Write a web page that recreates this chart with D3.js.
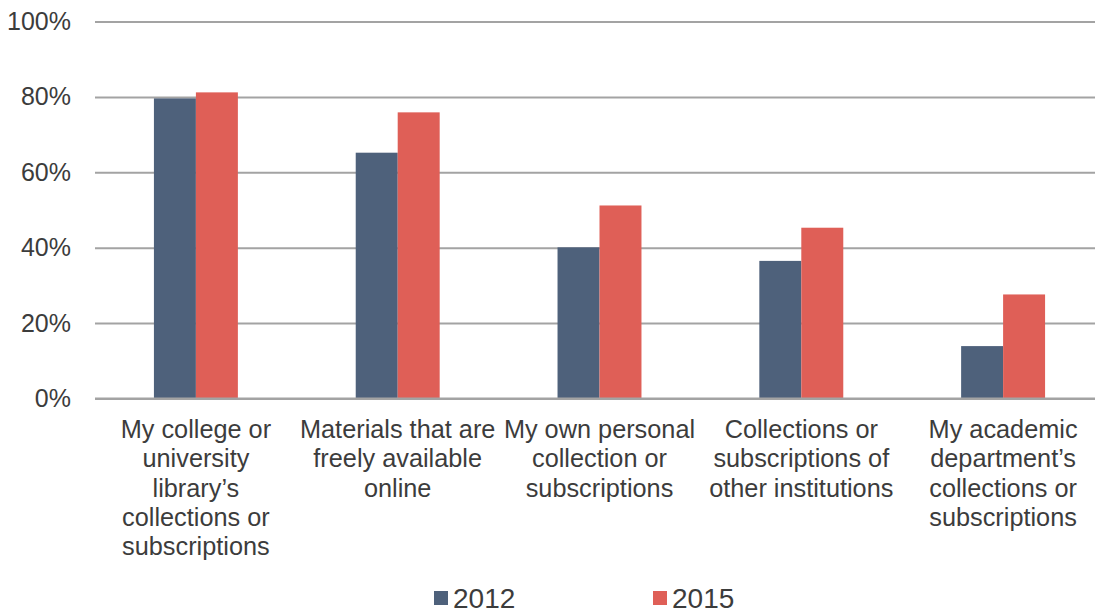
<!DOCTYPE html>
<html>
<head>
<meta charset="utf-8">
<script src="https://cdn.jsdelivr.net/npm/d3@7"></script>
<style>
  html, body { margin: 0; padding: 0; background: #fff; }
  svg { display: block; }
</style>
</head>
<body>
<div id="chart"></div>
<script>
// Chart data
const categories = [
  "My college or university library's collections or subscriptions",
  "Materials that are freely available online",
  "My own personal collection or subscriptions",
  "Collections or subscriptions of other institutions",
  "My academic department's collections or subscriptions"
];
const categoryLines = [
  ["My college or", "university", "library\u2019s", "collections or", "subscriptions"],
  ["Materials that are", "freely available", "online"],
  ["My own personal", "collection or", "subscriptions"],
  ["Collections or", "subscriptions of", "other institutions"],
  ["My academic", "department\u2019s", "collections or", "subscriptions"]
];
const seriesNames = ["2012", "2015"];
const values2012 = [0.796, 0.652, 0.401, 0.365, 0.139];
const values2015 = [0.812, 0.759, 0.512, 0.453, 0.276];
const yTicks = [0, 0.2, 0.4, 0.6, 0.8, 1.0];

const colors = { "2012": "#4e617b", "2015": "#df5f57" };

const width = 1095, height = 613;
const margin = { top: 21.5, right: -9, bottom: 214.5, left: 95 };

const svg = d3.select("#chart")
  .append("svg")
  .attr("width", width)
  .attr("height", height)
  .style("font-family", "'Liberation Sans', Arial, sans-serif");

const x0 = d3.scaleBand()
  .domain(d3.range(categories.length))
  .range([margin.left, width - margin.right])
  .paddingInner(0.584)
  .paddingOuter(0.292);

const x1 = d3.scaleBand()
  .domain(seriesNames)
  .range([0, x0.bandwidth()]);

const y = d3.scaleLinear()
  .domain([0, 1])
  .range([height - margin.bottom, margin.top]);

// gridlines + tick labels
const yAxis = d3.axisLeft(y)
  .tickValues(yTicks)
  .tickFormat(d3.format(".0%"))
  .tickSize(-(width - margin.left + 20))
  .tickPadding(24);

const gy = svg.append("g")
  .attr("transform", `translate(${margin.left},0)`)
  .call(yAxis);
gy.select(".domain").remove();
gy.selectAll(".tick line")
  .attr("stroke", "#a3a3a3")
  .attr("stroke-width", 2);
gy.selectAll(".tick text")
  .attr("fill", "#3c3c3c")
  .style("font-size", "25px")
  .style("font-family", "'Liberation Sans', Arial, sans-serif");

// bars
const rows = categories.map((c, i) => ({ i, vals: [values2012[i], values2015[i]] }));

const groups = svg.append("g").selectAll("g")
  .data(rows)
  .join("g")
  .attr("transform", d => `translate(${x0(d.i)},0)`);

groups.selectAll("rect")
  .data(d => d.vals.map((v, k) => ({ key: seriesNames[k], v })))
  .join("rect")
  .attr("x", d => x1(d.key))
  .attr("y", d => y(d.v))
  .attr("width", x1.bandwidth())
  .attr("height", d => y(0) - y(d.v))
  .attr("fill", d => colors[d.key]);

// redraw baseline over bars
svg.append("line")
  .attr("x1", margin.left)
  .attr("x2", width)
  .attr("y1", y(0))
  .attr("y2", y(0))
  .attr("stroke", "#a3a3a3")
  .attr("stroke-width", 2);

// category labels
const labels = svg.append("g").selectAll("text")
  .data(categoryLines)
  .join("text")
  .attr("text-anchor", "middle")
  .attr("fill", "#3c3c3c")
  .style("font-size", "25.3px")
  .attr("x", (d, i) => x0(i) + x0.bandwidth() / 2)
  .attr("y", 438);

labels.selectAll("tspan")
  .data(d => d)
  .join("tspan")
  .attr("x", function () { return d3.select(this.parentNode).attr("x"); })
  .attr("dy", (d, k) => k === 0 ? 0 : 29.3)
  .text(d => d);

// legend
const legendX = [434, 653];
const legend = svg.append("g").selectAll("g")
  .data(seriesNames)
  .join("g")
  .attr("transform", (d, i) => `translate(${legendX[i]},0)`);

legend.append("rect")
  .attr("x", 0)
  .attr("y", 591)
  .attr("width", 14)
  .attr("height", 14)
  .attr("fill", d => colors[d]);

legend.append("text")
  .attr("x", 19)
  .attr("y", 608)
  .attr("fill", "#3c3c3c")
  .style("font-size", "28px")
  .text(d => d);
</script>
</body>
</html>
